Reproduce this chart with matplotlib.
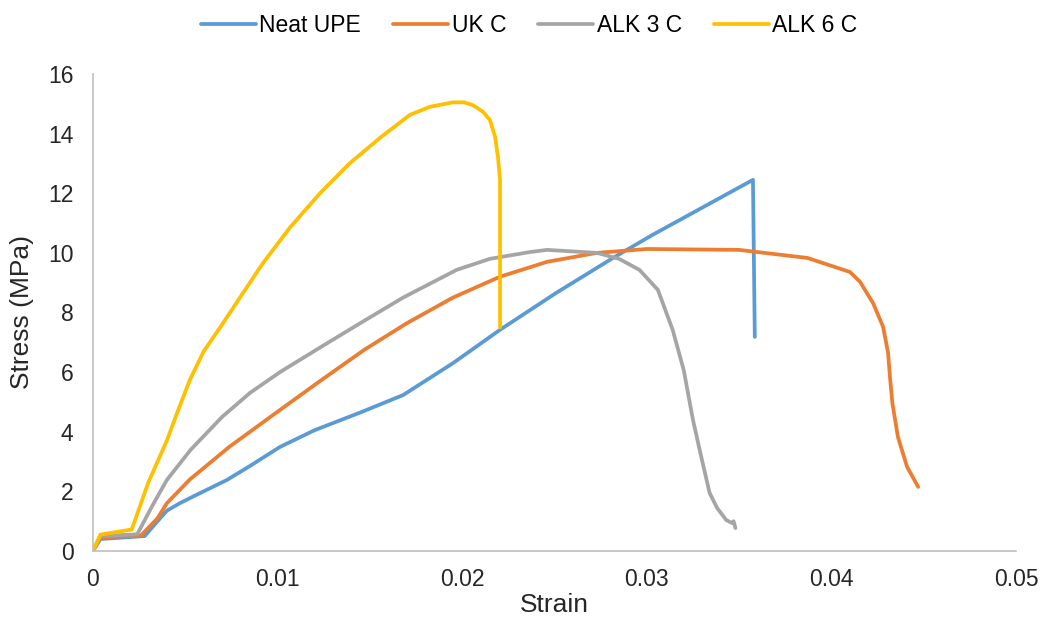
import matplotlib
matplotlib.use("Agg")
from matplotlib import pyplot as plt
from matplotlib.ticker import FuncFormatter

# strain / stress values
neat_x = [0, 0.0004, 0.0028, 0.0035, 0.004, 0.0047, 0.0055, 0.00725, 0.0085, 0.01013, 0.012,
          0.0145, 0.0168, 0.0195, 0.02205, 0.0251, 0.02817, 0.0303, 0.03575, 0.03585]
neat_y = [0, 0.4, 0.5, 1.0, 1.35, 1.6, 1.85, 2.38, 2.85, 3.49, 4.05,
          4.65, 5.23, 6.3, 7.42, 8.66, 9.83, 10.6, 12.45, 7.18]

ukc_x = [0, 0.0004, 0.0026, 0.0035, 0.004, 0.00525, 0.0074, 0.01013, 0.0123, 0.0147, 0.017,
         0.0195, 0.02205, 0.0246, 0.0273, 0.030, 0.035, 0.0387, 0.041, 0.04155, 0.04226,
         0.0428, 0.04307, 0.04317, 0.0433, 0.0436, 0.0441, 0.0447]
ukc_y = [0, 0.45, 0.52, 1.1, 1.6, 2.4, 3.5, 4.73, 5.7, 6.75, 7.64,
         8.5, 9.2, 9.7, 10.0, 10.13, 10.1, 9.83, 9.36, 9.03, 8.31,
         7.52, 6.64, 5.84, 4.97, 3.83, 2.82, 2.15]

alk3_x = [0, 0.0004, 0.0024, 0.0032, 0.004, 0.0053, 0.007, 0.0085, 0.01013, 0.0125, 0.0145,
          0.0168, 0.0197, 0.0215, 0.0237, 0.0246, 0.0273, 0.0285, 0.0296, 0.0306, 0.0314,
          0.032, 0.0325, 0.0329, 0.0334, 0.0338, 0.0343, 0.0346, 0.0347, 0.0348]
alk3_y = [0, 0.5, 0.56, 1.5, 2.38, 3.4, 4.5, 5.3, 6.0, 6.9, 7.65,
          8.5, 9.43, 9.8, 10.03, 10.1, 10.0, 9.8, 9.43, 8.76, 7.42,
          6.07, 4.4, 3.29, 1.95, 1.45, 1.04, 0.94, 1.0, 0.77]

alk6_x = [0, 0.0004, 0.0021, 0.003, 0.004, 0.0046, 0.00525, 0.006, 0.007, 0.0078, 0.0092,
          0.01067, 0.0123, 0.0139, 0.01555, 0.01717, 0.01825, 0.0195, 0.0201, 0.0206, 0.02113,
          0.0215, 0.02178, 0.02194, 0.02205, 0.02205]
alk6_y = [0, 0.55, 0.72, 2.3, 3.7, 4.7, 5.74, 6.7, 7.6, 8.35, 9.65,
          10.85, 12.0, 13.0, 13.86, 14.63, 14.9, 15.05, 15.05, 14.95, 14.73,
          14.46, 13.9, 13.2, 12.45, 7.5]

series = ["Neat UPE", "UK C", "ALK 3 C", "ALK 6 C"]
colors = ["#5B9BD5", "#ED7D31", "#A5A5A5", "#FFC000"]

plt.rcParams['font.family'] = ['Liberation Sans', 'DejaVu Sans']

fig = plt.figure(figsize=(10.48, 6.32), dpi=100)
ax = fig.add_axes([0.0887, 0.1282, 0.8808, 0.7547])

data = [(neat_x, neat_y), (ukc_x, ukc_y), (alk3_x, alk3_y), (alk6_x, alk6_y)]
for (xs, ys), name, c in zip(data, series, colors):
    ax.plot(xs, ys, color=c, lw=2.7, label=name, solid_capstyle='round', solid_joinstyle='round')

ax.set_xlim(0, 0.05)
ax.set_ylim(0, 16)
ax.set_xticks([0, 0.01, 0.02, 0.03, 0.04, 0.05])
ax.set_yticks(range(0, 17, 2))
ax.xaxis.set_major_formatter(FuncFormatter(lambda v, p: "0" if v == 0 else "%g" % v))

for s in ["top", "right"]:
    ax.spines[s].set_visible(False)
for s in ["left", "bottom"]:
    ax.spines[s].set_color("#BFBFBF")
    ax.spines[s].set_linewidth(1.2)
ax.tick_params(length=0, labelsize=16.5, labelcolor="#262626", pad=12)
ax.tick_params(axis='y', pad=14)

ax.set_xlabel("Strain", fontsize=19, color="#262626", labelpad=2)
ax.set_ylabel("Stress (MPa)", fontsize=19, color="#262626", labelpad=10)

fig.legend(loc="upper center", bbox_to_anchor=(0.505, 1.01), ncol=4, frameon=False,
           fontsize=16.5, handlelength=2.4, columnspacing=1.4, handletextpad=0.15)

fig.savefig("out.png", dpi=100)
